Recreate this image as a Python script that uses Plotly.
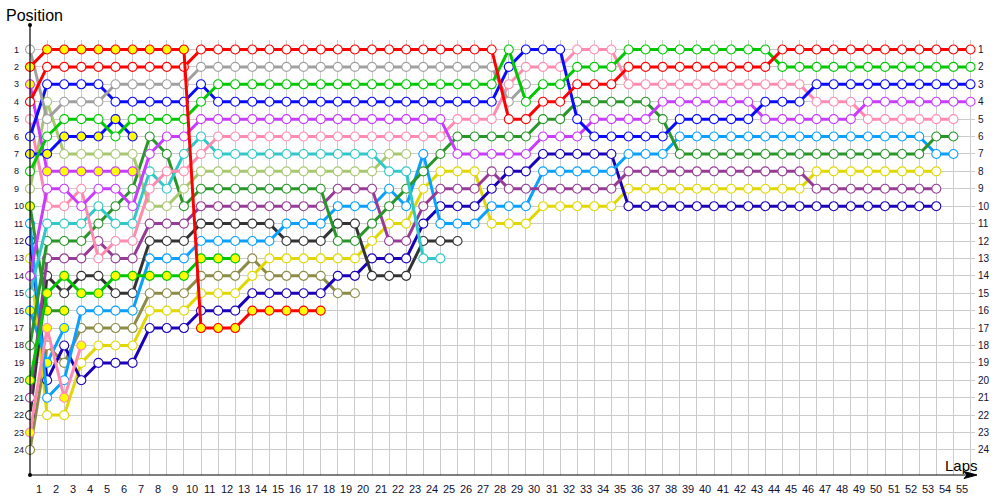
import plotly.graph_objects as go

# ---------------- data (positions by lap, lap 0 = grid) ----------------
red_w = [4, 2,2,2,2,2,2,2,2,2, 1,1,1,1,1,1,1,1,1,1,1,1,1,1,1,1,1,1, 5,5, 4,4, 3,3,3,
         2,2,2,2,2,2,2,2,2, 1,1,1,1,1,1,1,1,1,1,1,1]
red_y = [2, 1,1,1,1,1,1,1,1,1, 17,17,17, 16,16,16,16,16]
gray = [1, 5, 4,4,4, 3,3,3,3,3, 2,2,2,2,2,2,2,2,2,2,2,2,2,2,2,2,2,2, 4, 3]
lime = [8, 6, 5,5,5, 6, 5,5,5,5, 4, 3,3,3,3,3,3,3,3,3,3,3,3,3,3,3,3,3, 1, 4, 3,3, 2,2,2,
        1,1,1,1,1,1,1,1,1, 2,2,2,2,2,2,2,2,2,2,2,2]
blue_w = [6, 3,3,3,3, 4,4,4,4,4, 3, 4,4,4,4,4,4,4,4,4,4,4,4,4,4,4,4,4, 2, 1,1,1, 5,
          6,6,6,6,6, 5,5,5,5,5, 4,4,4, 3,3,3,3,3,3,3,3,3,3]
blue_y = [7, 7, 6,6,6, 5, 6]
violet_y = [3, 8,8,8,8,8,8]
violet_w = [14, 9, 9, 10, 9, 9, 10, 7, 6, 6, 5,5,5,5,5,5,5,5,5,5,5,5,5,5,5, 7,7,7,7,7,
            6,6,6, 5,5,5,5, 4,4,4,4,4,4, 5,5,5,5,5,5, 4,4,4,4,4,4,4]
pink_w = [5, 10, 10, 9, 13, 12, 12, 9, 8, 8, 7, 6,6,6,6,6,6,6,6,6,6,6,6,6,6, 5,5,5, 3,
          2,2,2, 1,1,1, 3,3,3,3,3,3,3,3,3,3,3, 4,4,4, 5,5,5,5,5,5]
pink_y = [23, 17, 21, 18]
cyan = [15, 11, 11, 11, 10, 11, 11, 8, 9, 7, 6, 7,7,7,7,7,7,7,7,7,7, 8, 8, 13, 13]
ygreen = [9, 4, 7,7,7,7,7, 10, 10, 9, 8,8,8,8,8,8,8,8,8,8,8, 7, 7]
dkgreen = [18, 12, 12, 12, 11, 10, 9, 6, 7, 10, 9,9,9,9,9,9,9,9, 12, 12, 11, 10, 9, 8, 7,
           6,6,6,6,6, 5,5, 4,4,4,4,4, 5, 7,7,7,7,7,7,7,7,7,7,7,7,7,7,7, 6, 6]
dkgreen_y = [10, 16, 16]
purple = [21, 13, 13, 13, 12, 13, 13, 11, 11, 11, 10,10,10,10,10,10,10,10, 9,9,9, 12,12,
          10, 9, 9, 9, 8, 9, 9, 9,9,9,9,9, 8,8,8,8,8,8,8,8,8,8,8, 9,9,9,9,9,9,9,9]
sky = [11, 21, 20, 16, 16, 16, 16, 13, 13, 13, 12,12,12,12,12, 11,11,11, 10,10,10, 9, 10, 7,
       11,11,11, 10,10,10, 8,8,8,8,8, 7,7,7, 6,6,6,6,6,6,6,6,6,6,6,6,6,6,6, 7, 7]
sky_y = [16, 19, 17]
black = [22, 14, 15, 14, 14, 15, 15, 12, 12, 12, 11,11,11,11,11, 12,12,12, 11, 11,
         14,14,14, 12,12,12]
lime_y = [20, 15, 14, 15, 15, 14, 14, 14, 14, 14, 13, 13, 13]
olive = [24, 18, 19, 17, 17, 17, 17, 15, 15, 15, 14, 14, 14, 13, 14, 14, 14, 14, 15, 15]
navy = [12, 20, 18, 20, 19, 19, 19, 17, 17, 17, 16, 16, 16, 15,15,15,15,15, 14, 14,
        13, 13, 13, 11, 10, 10, 10, 9, 8, 8, 7,7,7,7,7,
        10,10,10,10,10,10,10,10,10,10,10,10,10,10,10,10,10,10,10]
yellow = [13, 22, 22, 19, 18, 18, 18, 16, 16, 16, 15, 15, 15, 14, 13,13,13,13,13,13, 12,
          11, 11, 9, 8, 8, 8, 11, 11, 11, 10,10,10,10,10, 9,9,9,9,9,9,9,9,9,9,9,
          8,8,8,8,8,8,8,8]

lap_labels = [str(k) for k in range(1, 56)]
pos_labels = [str(p) for p in range(1, 25)]

# (series, line colour, marker fill)
drivers = [
    (olive, "#8c8c46", "white"),
    (yellow, "#e0d800", "white"),
    (navy, "#1a00b8", "white"),
    (black, "#333333", "white"),
    (sky_y, "#0aa0ff", "#ffff00"),
    (sky, "#0aa0ff", "white"),
    (purple, "#963c96", "white"),
    (dkgreen_y, "#289628", "#ffff00"),
    (dkgreen, "#289628", "white"),
    (ygreen, "#a8c870", "white"),
    (cyan, "#30c8c8", "white"),
    (pink_y, "#ff8cb0", "#ffff00"),
    (pink_w, "#ff8cb0", "white"),
    (lime_y, "#00c800", "#ffff00"),
    (violet_y, "#c83cff", "#ffff00"),
    (violet_w, "#c83cff", "white"),
    (blue_y, "#0a0aff", "#ffff00"),
    (blue_w, "#0a0aff", "white"),
    (gray, "#a0a0a0", "white"),
    (lime, "#00c800", "white"),
    (red_w, "#ff0000", "white"),
    (red_y, "#ff0000", "#ffff00"),
]

fig = go.Figure()
for pos, col, fill in drivers:
    fig.add_trace(go.Scatter(
        x=list(range(len(pos))), y=pos, mode="lines+markers",
        line=dict(color=col, width=3),
        marker=dict(symbol="circle", size=9, color=fill, line=dict(color=col, width=1.1)),
        hoverinfo="skip", cliponaxis=False,
    ))

# plot geometry (pixels)
L, R, T, B = 30, 975, 40, 475
W, H = R - L, B - T
def px_x(p):
    return (p - L) / W
def px_y(p):
    return (B - p) / H

ann = []
for k, lab in enumerate(lap_labels, start=1):
    ann.append(dict(x=k - 0.5, xref="x", y=px_y(489), yref="paper", text=lab, showarrow=False,
                    xanchor="center", yanchor="middle",
                    font=dict(family="Liberation Sans, Arial", size=11, color="#111133")))
for p, lab in enumerate(pos_labels, start=1):
    ann.append(dict(x=px_x(12), xref="paper", y=p, yref="y", text=lab, showarrow=False,
                    xanchor="left", yanchor="middle",
                    font=dict(family="Liberation Sans, Arial", size=9, color="#111133")))
    ann.append(dict(x=px_x(976), xref="paper", y=p, yref="y", text=lab, showarrow=False,
                    xanchor="left", yanchor="middle",
                    font=dict(family="Liberation Sans, Arial", size=10, color="#111133")))
ann.append(dict(x=px_x(4), xref="paper", y=px_y(16), yref="paper", text="Position", showarrow=False,
                xanchor="left", yanchor="middle", font=dict(family="Liberation Sans, Arial", size=16, color="black")))
ann.append(dict(x=px_x(943), xref="paper", y=px_y(465), yref="paper", text="Laps", showarrow=False,
                xanchor="left", yanchor="middle", font=dict(family="Liberation Sans, Arial", size=15, color="black")))

shapes = [
    dict(type="line", xref="paper", yref="paper", x0=0, x1=0, y0=0, y1=px_y(25),
         line=dict(color="black", width=1.2), layer="above"),
    dict(type="line", xref="paper", yref="paper", x0=0, x1=px_x(972), y0=0, y1=0,
         line=dict(color="black", width=1.2), layer="above"),
    dict(type="path", xref="paper", yref="paper",
         path=f"M {px_x(977)} {px_y(475)} L {px_x(964)} {px_y(471.5)} L {px_x(967)} {px_y(475)} L {px_x(964)} {px_y(478.5)} Z",
         fillcolor="black", line=dict(color="black", width=1), layer="above"),
    dict(type="circle", xref="paper", yref="paper", x0=px_x(28), x1=px_x(32), y0=px_y(23), y1=px_y(27),
         fillcolor="black", line=dict(color="black", width=0), layer="above"),
    dict(type="circle", xref="paper", yref="paper", x0=px_x(28), x1=px_x(32), y0=px_y(473), y1=px_y(477),
         fillcolor="black", line=dict(color="black", width=0), layer="above"),
]

fig.update_layout(
    width=1000, height=500,
    margin=dict(l=L, r=1000 - R, t=T, b=500 - B),
    plot_bgcolor="white", paper_bgcolor="white", showlegend=False,
    xaxis=dict(range=[0, W / 17.1], tickmode="linear", tick0=0, dtick=1, showgrid=True,
               gridcolor="#cccccc", gridwidth=1, showticklabels=False, zeroline=False, showline=False),
    yaxis=dict(range=[1 + (B - 49.5) / 17.41, 1 - (49.5 - T) / 17.41], tickmode="array",
               tickvals=list(range(1, 25)), showgrid=True, gridcolor="#cccccc", gridwidth=1,
               showticklabels=False, zeroline=False, showline=False),
    annotations=ann, shapes=shapes,
)

fig.write_html("out.html", config={"displayModeBar": False},
               post_script="document.body.style.margin='0';document.body.style.overflow='hidden';")
